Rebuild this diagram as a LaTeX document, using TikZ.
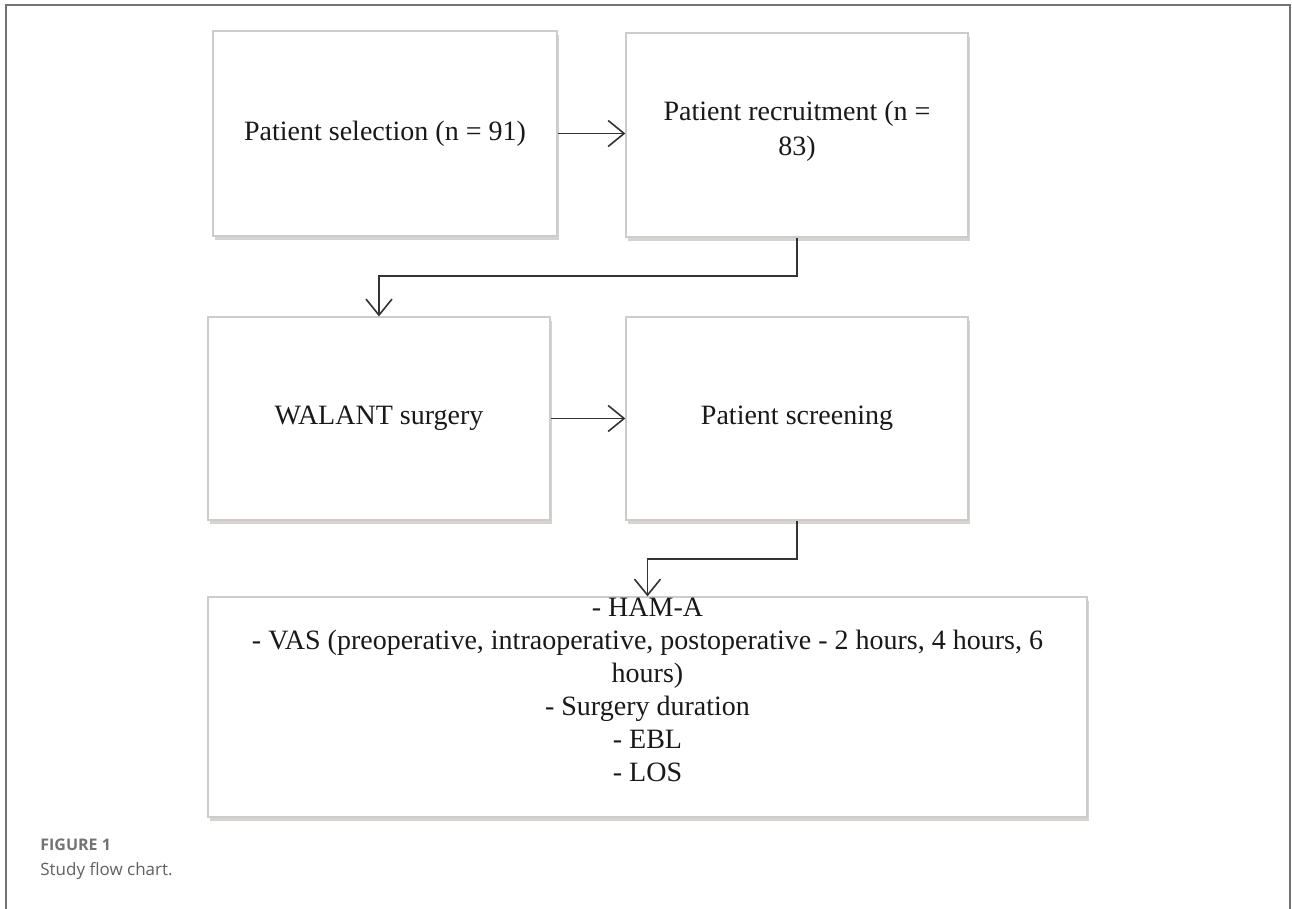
\documentclass[tikz,border=0pt]{standalone}
\usepackage{fontspec}
\setmainfont{Liberation Serif}
\newfontfamily\capfont{Open Sans}
\usetikzlibrary{arrows.meta,shadows}
\begin{document}
\begin{tikzpicture}[x=0.5pt,y=-0.5pt,
  box/.style={draw=black!20, fill=white, line width=0.6pt, inner sep=0pt,
    font=\fontsize{14}{16}\selectfont, align=center, text=black!90,
    drop shadow={shadow xshift=1.2pt, shadow yshift=-1.8pt, opacity=0.4, fill=brown!30!black!50}},
  boxtext/.style={font=\fontsize{14}{16.5}\selectfont, align=center, inner sep=0pt, text=black!90},
  conn/.style={draw=black!80, line width=0.8pt, -{Straight Barb[length=8pt,width=13pt,line width=0.8pt]}},
  frameline/.style={draw=black!55, line width=0.8pt},
]
\fill[white] (0,0) rectangle (1292,909);
\useasboundingbox (0,0) rectangle (1292,909);
\draw[frameline] (6,909) -- (6,5) -- (1290,5) -- (1290,909);

\node[box, minimum width=172pt, minimum height=102.5pt] (sel) at (385,133.5) {Patient selection (n = 91)};
\node[box, minimum width=171pt, minimum height=102pt] (rec) at (797,135) {Patient recruitment (n =\\[1.5pt]83)\rule[-6.5pt]{0pt}{0pt}};
\node[box, minimum width=171pt, minimum height=101.5pt] (wal) at (379,418.5) {WALANT surgery};
\node[box, minimum width=171pt, minimum height=101.5pt] (scr) at (797,418.5) {Patient screening};
\node[box, minimum width=439.5pt, minimum height=110pt] (out) at (647.5,707) {};
\node[boxtext, anchor=north] (outtext) at ([yshift=-0.5pt]out.north) {- HAM-A\\- VAS (preoperative, intraoperative, postoperative - 2 hours, 4 hours, 6\\hours)\\- Surgery duration\\- EBL\\- LOS};

\coordinate (j1) at (0,276);
\coordinate (j2) at (0,559);
\draw[conn] (sel.east) -- (sel.east -| rec.west);
\draw[conn] (wal.east) -- (wal.east -| scr.west);
\draw[conn] (rec.south) -- (rec.south |- j1) -| (wal.north);
\draw[conn] (scr.south) -- (scr.south |- j2) -| (out.north);

\node[anchor=west, font=\capfont\bfseries\fontsize{8}{9.6}\selectfont, text=black!55, inner sep=0pt] (figlab) at (40,845) {FIGURE 1};
\node[anchor=west, font=\capfont\fontsize{8.5}{10}\selectfont, text=black!62, inner sep=0pt] (figcap) at (40,871) {Study flow chart.};
\end{tikzpicture}
\end{document}
